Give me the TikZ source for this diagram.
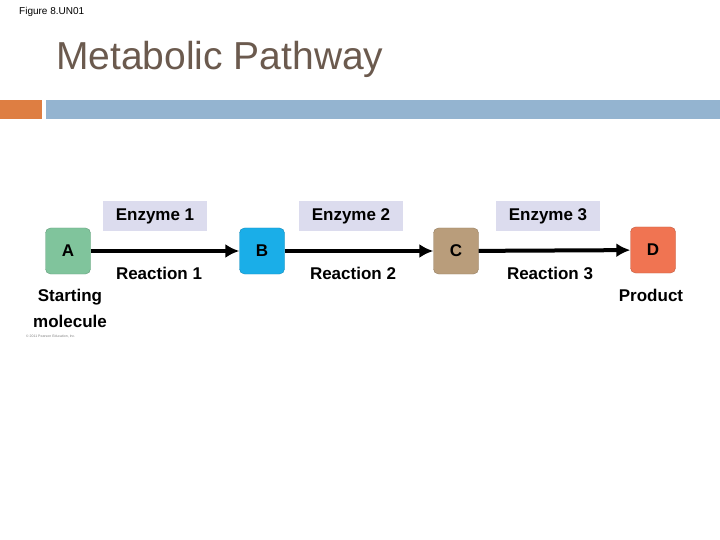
\documentclass[tikz,border=0pt]{standalone}
\usepackage{fontspec}
\setmainfont{Liberation Sans}
\begin{document}
\begin{tikzpicture}[x=1pt,y=-1pt,
  mol/.style={draw=#1!80!black,fill=#1,rounded corners=5pt,minimum width=45pt,minimum height=46pt,font=\bfseries\fontsize{17}{20}\selectfont},
  enz/.style={fill=enzfill,minimum width=104pt,minimum height=30pt,inner sep=0pt,font=\bfseries\fontsize{17}{20}\selectfont},
  lab/.style={font=\bfseries\fontsize{17}{20}\selectfont,inner sep=0pt},
  arr/.style={line width=4pt,-{Latex[length=14pt,width=14pt]}}]
\usetikzlibrary{arrows.meta}
\definecolor{enzfill}{HTML}{DCDCEE}
\definecolor{molA}{HTML}{80C49C}
\definecolor{molB}{HTML}{1AAEE8}
\definecolor{molC}{HTML}{B99D7B}
\definecolor{molD}{HTML}{F07452}
\definecolor{titlec}{HTML}{6B5A4E}
\useasboundingbox (0,0) rectangle (720,540);
\node[anchor=west,inner sep=0pt,font=\fontsize{10}{12}\selectfont] (fig) at (19,12) {Figure 8.UN01};
\node[anchor=west,inner sep=0pt,text=titlec,font=\fontsize{39}{44}\selectfont] (title) at (56,59) {Metabolic Pathway};
\fill[fill={rgb,255:red,222;green,126;blue,66}] (0,100) rectangle (42,119);
\fill[fill={rgb,255:red,148;green,180;blue,208}] (46,100) rectangle (720,119);
\node[mol=molA] (A) at (68,251) {A};
\node[mol=molB] (B) at (262,251) {B};
\node[mol=molC] (C) at (456,251) {C};
\node[mol=molD] (D) at (653,250) {D};
\draw[arr] (A) -- (B);
\draw[arr] (B) -- (C);
\draw[arr] (C) -- (D);
\node[enz] (e1) at (155,216) {Enzyme 1};
\node[enz] (e2) at (351,216) {Enzyme 2};
\node[enz] (e3) at (548,216) {Enzyme 3};
\node[lab] (r1) at (159,273) {Reaction 1};
\node[lab] (r2) at (353,273) {Reaction 2};
\node[lab] (r3) at (550,273) {Reaction 3};
\node[lab,align=center,font=\bfseries\fontsize{17}{26}\selectfont] (s) at (70,308) {Starting\\molecule};
\node[lab] (p) at (651,295) {Product};
\node[anchor=west,inner sep=0pt,font=\fontsize{3.5}{4}\selectfont,text=gray] (cp) at (26,336) {© 2011 Pearson Education, Inc.};
\end{tikzpicture}
\end{document}
